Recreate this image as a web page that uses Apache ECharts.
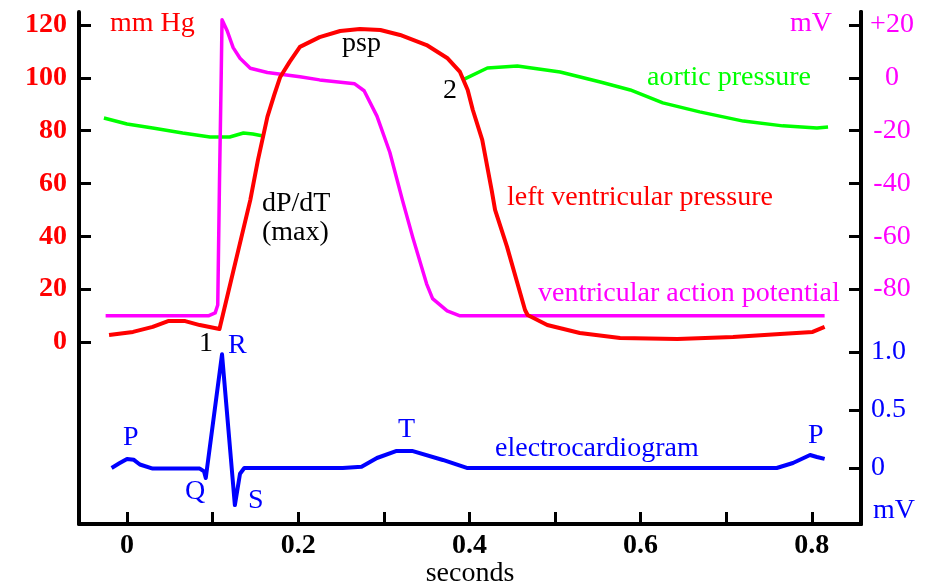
<!DOCTYPE html>
<html>
<head>
<meta charset="utf-8">
<script src="https://cdn.jsdelivr.net/npm/echarts@6.0.0/dist/echarts.min.js"></script>
<style>
html, body { margin: 0; padding: 0; background: #fff; }
#container { width: 929px; height: 585px; }
</style>
</head>
<body>
<div id="container"></div>
<script>
// tick values
var secondTicks = [0, 0.1, 0.2, 0.3, 0.4, 0.5, 0.6, 0.7, 0.8];
var secondLabels = [0, 0.2, 0.4, 0.6, 0.8];
var pressureTicks = [0, 20, 40, 60, 80, 100, 120];
var potentialTicks = [-80, -60, -40, -20, 0, 20];
var ecgTicks = [0, 0.5, 1.0];

// [seconds, mm Hg]
var lvPressure = [
    [-0.021, 2.6], [0.007, 3.8], [0.030, 5.7], [0.048, 7.9], [0.068, 7.9], [0.085, 6.4],
    [0.108, 4.9], [0.144, 53.7], [0.153, 68.9], [0.164, 85.2], [0.172, 93.5], [0.179, 100.3],
    [0.190, 106.0], [0.202, 111.7], [0.225, 115.4], [0.249, 117.7], [0.272, 118.5], [0.296, 118.1],
    [0.319, 116.2], [0.350, 112.4], [0.374, 107.5], [0.389, 102.2], [0.398, 95.4], [0.404, 87.8],
    [0.415, 76.5], [0.426, 57.5], [0.430, 50.0], [0.444, 36.0], [0.456, 22.3], [0.465, 12.1],
    [0.468, 10.2], [0.491, 6.4], [0.529, 3.4], [0.576, 1.5], [0.643, 1.1], [0.708, 1.9],
    [0.763, 3.0], [0.801, 3.8], [0.815, 5.7]
];
var aorticEarly = [
    [-0.027, 84.8], [0.000, 82.5], [0.030, 81.0], [0.065, 79.1], [0.097, 77.6], [0.120, 77.6],
    [0.136, 79.1], [0.147, 78.7], [0.159, 78.0]
];
var aorticLate = [
    [0.394, 99.5], [0.421, 103.7], [0.456, 104.5], [0.506, 102.2], [0.553, 98.4], [0.588, 95.4],
    [0.626, 90.5], [0.669, 87.1], [0.720, 83.6], [0.766, 81.8], [0.806, 81.0], [0.819, 81.4]
];
// [seconds, mV]
var actionPotential = [
    [-0.025, -90.1], [0.095, -90.1], [0.103, -89.0], [0.106, -86.0], [0.108, -40.0], [0.110, 0],
    [0.111, 22.0], [0.117, 17.8], [0.124, 11.4], [0.132, 7.4], [0.144, 3.6], [0.164, 2.0],
    [0.202, 0.4], [0.225, -0.8], [0.266, -2.3], [0.277, -4.9], [0.292, -14.5], [0.307, -28.2],
    [0.322, -46.6], [0.334, -60.6], [0.350, -78.0], [0.357, -83.6], [0.374, -88.2], [0.389, -90.1],
    [0.815, -90.1]
];
var ecg = [
    [-0.018, 0], [-0.009, 0.04], [0.000, 0.078], [0.008, 0.07], [0.015, 0.03], [0.030, -0.005],
    [0.085, -0.005], [0.090, -0.03], [0.092, -0.086], [0.111, 0.98], [0.126, -0.32], [0.132, -0.05],
    [0.137, 0], [0.252, 0], [0.274, 0.01], [0.292, 0.086], [0.315, 0.147], [0.333, 0.147],
    [0.369, 0.069], [0.397, 0], [0.759, 0], [0.778, 0.043], [0.798, 0.112], [0.806, 0.095],
    [0.815, 0.078]
];

var serif = '"Liberation Serif", "Times New Roman", serif';

function note(text, x, y, color) {
    return {
        type: 'text', x: x, y: y, z: 100,
        style: { text: text, fill: color, fontSize: 28, fontFamily: serif, align: 'left', verticalAlign: 'middle' }
    };
}

var dom = document.getElementById("container");
var myChart = echarts.init(dom);
var option = null;

var tickStyle = { show: true, inside: true, length: 12, lineStyle: { color: '#000', width: 3 } };
var lineAxis = { show: true, onZero: false, lineStyle: { color: '#000', width: 4 } };

option = {
    animation: false,
    backgroundColor: '#fff',
    // keep the grid where it is even though the labels reach the edge
    grid: { left: 79, right: 68, top: 12, bottom: 61, outerBoundsMode: 'none', containLabel: false },
    xAxis: {
        type: 'value',
        min: -0.0561,
        max: 0.8575,
        name: 'seconds',
        nameLocation: 'middle',
        nameGap: 36,
        nameMoveOverlap: false,
        nameTextStyle: { color: '#000', fontSize: 28, fontFamily: serif },
        axisLine: lineAxis,
        axisTick: Object.assign({ customValues: secondTicks }, tickStyle),
        splitLine: { show: false },
        axisLabel: {
            customValues: secondLabels,
            margin: 8,
            color: '#000', fontSize: 28, fontWeight: 'bold', fontFamily: serif,
            formatter: function (v) { return v === 0 ? '0' : v.toFixed(1); }
        }
    },
    yAxis: [
        {
            type: 'value', position: 'left',
            min: -68.9, max: 124.9,
            axisLine: lineAxis,
            axisTick: Object.assign({ customValues: pressureTicks }, tickStyle),
            splitLine: { show: false },
            axisLabel: {
                customValues: pressureTicks, margin: 12,
                color: '#ff0000', fontSize: 28, fontWeight: 'bold', fontFamily: serif
            }
        },
        {
            type: 'value', position: 'right',
            min: -168.9, max: 24.9,
            axisLine: lineAxis,
            axisTick: Object.assign({ customValues: potentialTicks }, tickStyle),
            splitLine: { show: false },
            axisLabel: {
                customValues: potentialTicks, margin: 31, align: 'center',
                color: '#ff00ff', fontSize: 28, fontFamily: serif,
                formatter: function (v) { return v > 0 ? '+' + v : String(v); }
            }
        },
        {
            type: 'value', position: 'right',
            min: -0.483, max: 3.931,
            axisLine: lineAxis,
            axisTick: Object.assign({ customValues: ecgTicks }, tickStyle),
            splitLine: { show: false },
            axisLabel: {
                customValues: ecgTicks, margin: 10,
                color: '#0000ff', fontSize: 28, fontFamily: serif,
                formatter: function (v) { return v === 0 ? '0' : v.toFixed(1); }
            }
        }
    ],
    series: [
        {
            name: 'aortic pressure', type: 'line', yAxisIndex: 0, data: aorticEarly,
            showSymbol: false, lineStyle: { color: '#00ff00', width: 3.5, join: 'round' }
        },
        {
            name: 'aortic pressure 2', type: 'line', yAxisIndex: 0, data: aorticLate,
            showSymbol: false, lineStyle: { color: '#00ff00', width: 3.5, join: 'round' }
        },
        {
            name: 'ventricular action potential', type: 'line', yAxisIndex: 1, data: actionPotential,
            showSymbol: false, lineStyle: { color: '#ff00ff', width: 3.5, join: 'round' }
        },
        {
            name: 'left ventricular pressure', type: 'line', yAxisIndex: 0, data: lvPressure,
            showSymbol: false, lineStyle: { color: '#ff0000', width: 4, join: 'round' }
        },
        {
            name: 'electrocardiogram', type: 'line', yAxisIndex: 2, data: ecg,
            showSymbol: false, lineStyle: { color: '#0000ff', width: 4, join: 'round' }
        }
    ],
    graphic: [
        note('mm Hg', 110, 24, '#ff0000'),
        note('mV', 790, 24, '#ff00ff'),
        note('psp', 342, 44, '#000'),
        note('2', 443, 91, '#000'),
        note('aortic pressure', 647, 78, '#00ff00'),
        note('dP/dT', 262, 204, '#000'),
        note('(max)', 262, 233, '#000'),
        note('left ventricular pressure', 507, 198, '#ff0000'),
        note('ventricular action potential', 538, 294, '#ff00ff'),
        note('1', 199, 344, '#000'),
        note('R', 228, 346, '#0000ff'),
        note('P', 123, 438, '#0000ff'),
        note('Q', 185, 492, '#0000ff'),
        note('S', 248, 501, '#0000ff'),
        note('T', 398, 430, '#0000ff'),
        note('electrocardiogram', 495, 449, '#0000ff'),
        note('P', 808, 436, '#0000ff'),
        note('mV', 873, 511, '#0000ff')
    ]
};
if (option && typeof option === "object") {
    myChart.setOption(option, true);
}
</script>
</body>
</html>
